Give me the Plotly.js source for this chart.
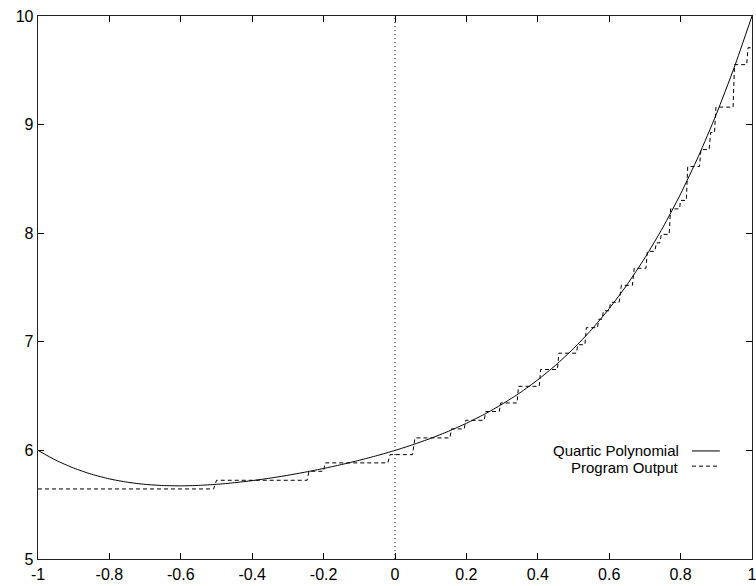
<!DOCTYPE html>
<html>
<head>
<meta charset="utf-8">
<script src="https://cdn.plot.ly/plotly-3.0.1.min.js"></script>
<style>html,body{margin:0;padding:0;background:#fff;}#chart{width:756px;height:586px;}</style>
</head>
<body>
<div id="chart"></div>
<script>
// Quartic polynomial samples
var curveX = [-1.00,-0.95,-0.90,-0.85,-0.80,-0.75,-0.70,-0.65,-0.60,-0.55,-0.50,-0.45,-0.40,-0.35,-0.30,-0.25,-0.20,-0.15,-0.10,-0.05,
              0.00,0.05,0.10,0.15,0.20,0.25,0.30,0.35,0.40,0.45,0.50,0.55,0.60,0.65,0.70,0.75,0.80,0.85,0.90,0.95,1.00];
var curveY = [6.0000,5.9096,5.8371,5.7804,5.7376,5.7070,5.6871,5.6764,5.6736,5.6776,5.6875,5.7024,5.7216,5.7446,5.7711,5.8008,5.8336,5.8696,5.9091,5.9524,
              6.0000,6.0526,6.1111,6.1764,6.2496,6.3320,6.4251,6.5304,6.6496,6.7846,6.9375,7.1104,7.3056,7.5256,7.7731,8.0508,8.3616,8.7086,9.0951,9.5244,10.0000];

// Program output: flat steps (start x, end x, level)
var stepStart = [-1.000,-0.500,-0.241,-0.196,-0.014,0.056,0.158,0.198,0.254,0.296,
                 0.346,0.408,0.459,0.512,0.536,0.571,0.584,0.604,0.634,0.670,
                 0.707,0.732,0.746,0.772,0.800,0.820,0.857,0.884,0.899,0.951,0.989];
var stepEnd   = [-0.508,-0.246,-0.200,-0.020,0.049,0.154,0.194,0.250,0.292,0.342,
                 0.404,0.455,0.508,0.532,0.567,0.580,0.600,0.628,0.665,0.703,
                 0.728,0.742,0.768,0.797,0.816,0.853,0.880,0.895,0.947,0.985,1.000];
var stepLevel = [5.645,5.725,5.808,5.885,5.961,6.115,6.198,6.277,6.358,6.437,
                 6.590,6.745,6.895,6.973,7.130,7.208,7.286,7.364,7.520,7.677,
                 7.833,7.911,7.989,8.224,8.302,8.614,8.770,8.927,9.161,9.552,9.708];

var xTickVals = [-1,-0.8,-0.6,-0.4,-0.2,0,0.2,0.4,0.6,0.8,1];
var xTickText = ['-1','-0.8','-0.6','-0.4','-0.2','0','0.2','0.4','0.6','0.8','1'];
var yTickVals = [5,6,7,8,9,10];
var yTickText = ['5','6','7','8','9','10'];

var seriesNames = ['Quartic Polynomial','Program Output'];

var sx = [], sy = [];
for (var i = 0; i < stepLevel.length; i++) {
  sx.push(stepStart[i]); sy.push(stepLevel[i]);
  sx.push(stepEnd[i]);   sy.push(stepLevel[i]);
}

var font = {family: 'Liberation Sans, Arial, Helvetica, sans-serif', size: 16, color: '#000'};
var legFont = {family: 'Liberation Sans, Arial, Helvetica, sans-serif', size: 15, color: '#000'};

var traces = [
  {x: curveX, y: curveY, type: 'scatter', mode: 'lines', name: seriesNames[0],
   line: {color: '#000', width: 1, shape: 'spline', smoothing: 0.6}, showlegend: false},
  {x: sx, y: sy, type: 'scatter', mode: 'lines', name: seriesNames[1],
   line: {color: '#000', width: 1, dash: '4px,3px'}, showlegend: false}
];

var axisCommon = {
  showgrid: false, zeroline: false, showline: true, linecolor: '#222', linewidth: 1.3,
  mirror: 'ticks', ticks: 'inside', ticklen: 6, tickcolor: '#000', tickwidth: 1,
  tickfont: font, tickmode: 'array', ticklabeloverflow: 'allow'
};

var layout = {
  width: 756, height: 586,
  margin: {l: 38, r: 4, t: 16, b: 27, pad: 0},
  paper_bgcolor: '#fff', plot_bgcolor: '#fff',
  showlegend: false,
  xaxis: Object.assign({}, axisCommon, {range: [-1, 1], tickvals: xTickVals, ticktext: xTickText}),
  yaxis: Object.assign({}, axisCommon, {range: [5, 10], tickvals: yTickVals, ticktext: yTickText}),
  shapes: [
    {type: 'line', xref: 'x', yref: 'y', x0: 0, x1: 0, y0: 5, y1: 10,
     line: {color: '#000', width: 1, dash: '1px,3px'}},
    {type: 'line', xref: 'paper', yref: 'paper', x0: 0.916, x1: 0.955, y0: 0.199, y1: 0.199,
     line: {color: '#000', width: 1}},
    {type: 'line', xref: 'paper', yref: 'paper', x0: 0.916, x1: 0.955, y0: 0.171, y1: 0.171,
     line: {color: '#000', width: 1, dash: '4px,3px'}}
  ],
  annotations: [
    {xref: 'paper', yref: 'paper', x: 0.899, y: 0.2007, xanchor: 'right', yanchor: 'middle',
     text: seriesNames[0], showarrow: false, font: legFont, borderpad: 0},
    {xref: 'paper', yref: 'paper', x: 0.899, y: 0.1694, xanchor: 'right', yanchor: 'middle',
     text: seriesNames[1], showarrow: false, font: legFont, borderpad: 0}
  ]
};

Plotly.newPlot('chart', traces, layout, {displayModeBar: false, staticPlot: true});
</script>
</body>
</html>
